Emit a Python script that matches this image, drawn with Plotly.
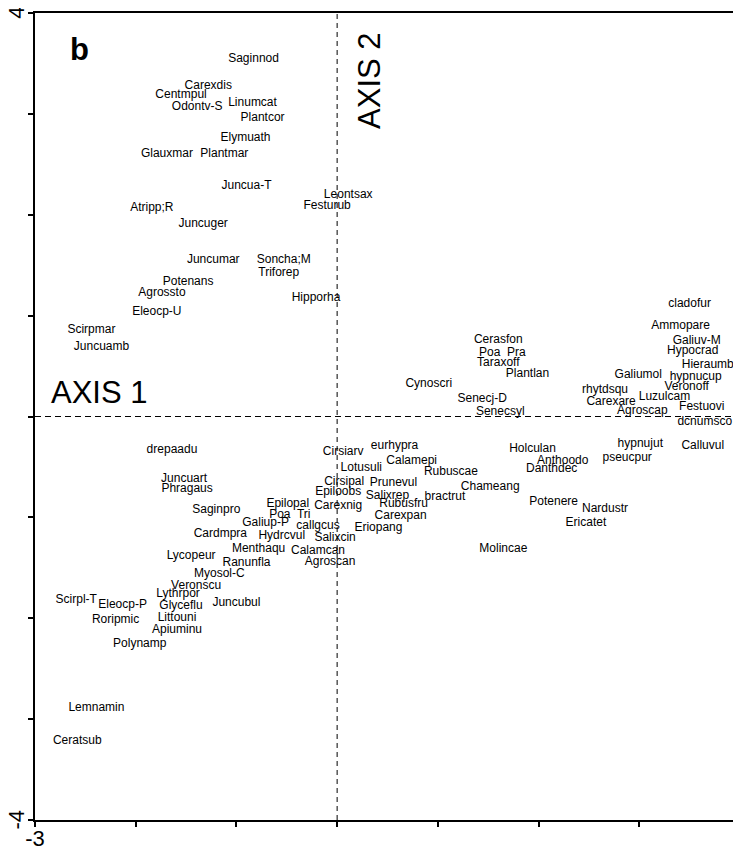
import plotly.graph_objects as go

# species labels and their ordination scores (axis 1, axis 2)
species = [
    "Saginnod", "Carexdis", "Centmpul", "Odontv-S", "Linumcat", "Plantcor",
    "Elymuath", "Glauxmar", "Plantmar", "Juncua-T", "Leontsax", "Festurub",
    "Atripp;R", "Juncuger", "Juncumar", "Soncha;M", "Triforep", "Potenans",
    "Agrossto", "Hipporha", "Eleocp-U", "Scirpmar", "Juncuamb",
    "cladofur", "Ammopare", "Cerasfon", "Galiuv-M", "Poa  Pra", "Hypocrad",
    "Taraxoff", "Hieraumb", "Plantlan", "Galiumol", "hypnucup", "Cynoscri",
    "Veronoff", "rhytdsqu", "Luzulcam", "Senecj-D", "Carexare", "Festuovi",
    "Senecsyl", "Agroscap", "dcnumsco",
    "drepaadu", "Cirsiarv", "eurhypra", "Holculan", "hypnujut", "Calluvul",
    "Calamepi", "Anthoodo", "pseucpur", "Lotusuli", "Danthdec", "Rubuscae",
    "Juncuart", "Cirsipal", "Prunevul", "Chameang", "Phragaus", "Epiloobs",
    "Salixrep", "bractrut", "Potenere", "Rubusfru", "Epilopal", "Carexnig",
    "Nardustr", "Saginpro", "Poa  Tri", "Carexpan", "Galiup-P", "Ericatet",
    "callgcus", "Eriopang", "Cardmpra", "Hydrcvul", "Salixcin", "Menthaqu",
    "Molincae", "Calamcan", "Lycopeur", "Agroscan", "Ranunfla", "Myosol-C",
    "Veronscu", "Lythrpor", "Scirpl-T", "Juncubul", "Eleocp-P", "Glyceflu",
    "Littouni", "Roripmic", "Apiuminu", "Polynamp", "Lemnamin", "Ceratsub",
]
axis1 = [
    -0.83, -1.28, -1.55, -1.39, -0.84, -0.74,
    -0.91, -1.69, -1.12, -0.90, 0.11, -0.10,
    -1.84, -1.33, -1.23, -0.53, -0.58, -1.48,
    -1.74, -0.21, -1.79, -2.44, -2.34,
    3.50, 3.41, 1.60, 3.57, 1.64, 3.53,
    1.60, 3.68, 1.89, 2.99, 3.56, 0.91,
    3.47, 2.66, 3.25, 1.44, 2.72, 3.62,
    1.62, 3.03, 3.65,
    -1.64, 0.06, 0.57, 1.94, 3.01, 3.63,
    0.74, 2.24, 2.88, 0.24, 2.13, 1.13,
    -1.52, 0.07, 0.56, 1.52, -1.49, 0.01,
    0.50, 1.07, 2.15, 0.66, -0.49, 0.01,
    2.66, -1.20, -0.47, 0.63, -0.71, 2.47,
    -0.19, 0.41, -1.16, -0.55, -0.02, -0.78,
    1.65, -0.19, -1.45, -0.07, -0.90, -1.17,
    -1.40, -1.58, -2.59, -1.00, -2.13, -1.55,
    -1.59, -2.20, -1.59, -1.96, -2.39, -2.58,
]
axis2 = [
    3.54, 3.28, 3.19, 3.07, 3.11, 2.96,
    2.76, 2.60, 2.60, 2.29, 2.20, 2.09,
    2.07, 1.91, 1.55, 1.55, 1.42, 1.33,
    1.22, 1.17, 1.04, 0.86, 0.69,
    1.12, 0.90, 0.76, 0.75, 0.63, 0.65,
    0.53, 0.51, 0.42, 0.41, 0.39, 0.32,
    0.29, 0.26, 0.19, 0.17, 0.14, 0.09,
    0.04, 0.05, -0.05,
    -0.33, -0.35, -0.29, -0.32, -0.27, -0.29,
    -0.44, -0.44, -0.41, -0.51, -0.52, -0.55,
    -0.62, -0.65, -0.66, -0.70, -0.72, -0.75,
    -0.79, -0.80, -0.85, -0.87, -0.87, -0.89,
    -0.92, -0.93, -0.98, -0.99, -1.06, -1.06,
    -1.09, -1.11, -1.16, -1.18, -1.20, -1.31,
    -1.31, -1.33, -1.38, -1.44, -1.45, -1.56,
    -1.68, -1.76, -1.82, -1.85, -1.87, -1.88,
    -2.00, -2.02, -2.12, -2.26, -2.89, -3.22,
]

x_ticks = [-3, -2, -1, 0, 1, 2, 3, 4]
x_ticktext = ["-3", "", "", "", "", "", "", ""]
y_ticks = [-4, -3, -2, -1, 0, 1, 2, 3, 4]
y_ticktext = ["-4", "", "", "", "", "", "", "", "4"]

FONT = "Liberation Sans, Arial, Helvetica, sans-serif"

fig = go.Figure()
fig.add_trace(go.Scatter(
    x=axis1, y=axis2, text=species,
    mode="text", textposition="middle center",
    textfont=dict(family=FONT, size=12, color="black"),
    showlegend=False, hoverinfo="text",
))

# dashed zero lines
fig.add_shape(type="line", xref="x", yref="paper", x0=0, x1=0, y0=0, y1=1,
              line=dict(color="black", width=1, dash="5px,4px"))
fig.add_shape(type="line", xref="paper", yref="y", x0=0, x1=1, y0=0, y1=0,
              line=dict(color="black", width=1, dash="6px,4px"))

fig.add_annotation(x=-2.36, y=0.235, text="AXIS 1", showarrow=False,
                   font=dict(family=FONT, size=31, color="black"))
fig.add_annotation(x=0.32, y=3.33, text="AXIS 2", showarrow=False, textangle=-90,
                   font=dict(family=FONT, size=31, color="black"))
fig.add_annotation(x=-2.56, y=3.64, text="<b>b</b>", showarrow=False,
                   font=dict(family=FONT, size=31, color="black"))

# the page adds an 8px body margin, so the figure is sized/offset to compensate
fig.update_layout(
    width=733, height=843,
    margin=dict(l=27, r=1, t=5, b=31),
    paper_bgcolor="white", plot_bgcolor="white",
    xaxis=dict(
        range=[-3, 4], tickvals=x_ticks, ticktext=x_ticktext,
        showgrid=False, zeroline=False, showline=True, mirror=True,
        linecolor="black", linewidth=1.5, ticks="outside", ticklen=5,
        tickwidth=1.5, tickcolor="black", automargin=False,
        ticklabeloverflow="allow", ticklabelstandoff=-7,
        tickfont=dict(family=FONT, size=22, color="black"),
    ),
    yaxis=dict(
        range=[-4, 4], tickvals=y_ticks, ticktext=y_ticktext,
        showgrid=False, zeroline=False, showline=True, mirror=True,
        linecolor="black", linewidth=1.5, ticks="outside", ticklen=5,
        tickwidth=1.5, tickcolor="black", tickangle=-90, automargin=False,
        ticklabeloverflow="allow", ticklabelstandoff=-5, ticklabelshift=3,
        tickfont=dict(family=FONT, size=22, color="black"),
    ),
)

fig.write_html("out.html")
